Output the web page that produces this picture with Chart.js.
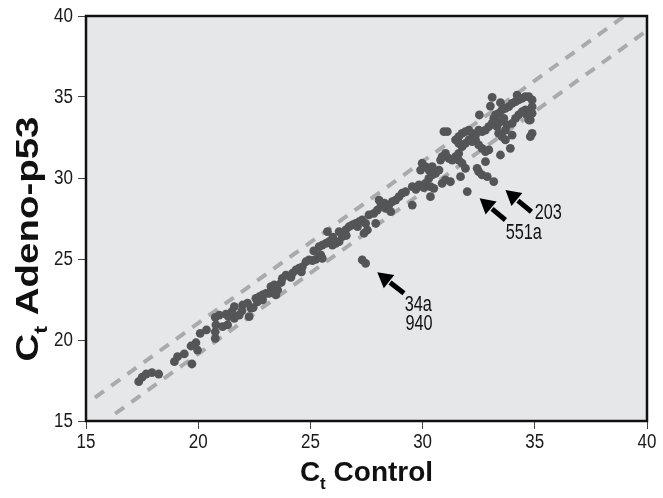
<!DOCTYPE html>
<html>
<head>
<meta charset="utf-8">
<script src="https://cdn.jsdelivr.net/npm/chart.js@4"></script>
<style>
  html, body { margin: 0; padding: 0; background: #fff; }
  #wrap { width: 663px; height: 498px; }
</style>
</head>
<body>
<div id="wrap"><canvas id="ctChart"></canvas></div>
<script>
// Ct values per gene: control (x) vs Adeno-p53 (y)
const controlCt = [
  17.35, 17.50, 17.68, 17.94, 18.24, 18.94, 19.08, 19.38, 19.72, 19.68, 19.90, 19.97,
  20.09, 20.37, 20.76, 20.76, 20.79, 20.76, 20.94, 21.24, 21.35, 21.31, 21.09, 21.61,
  21.61, 21.83, 21.98, 22.20, 22.35, 22.57, 22.72, 22.87, 23.16, 23.46, 22.27, 22.64,
  22.87, 23.02, 23.24, 23.39, 23.54, 23.46, 23.75, 23.91, 24.13, 24.20, 24.35, 24.50,
  24.64, 24.80, 24.94, 25.09, 25.24, 25.39, 25.46, 25.53, 25.39, 25.53, 25.69, 25.76,
  25.83, 25.98, 26.13, 26.28, 26.28, 26.42, 26.57, 26.72, 26.87, 27.02, 27.17, 27.31,
  27.46, 27.54, 27.39, 27.61, 27.83, 27.98, 28.06, 28.13, 28.35, 28.50, 28.65, 28.80,
  28.95, 29.09, 29.24, 29.54, 28.58, 27.91, 27.31, 27.46,
  29.54, 29.84, 30.13, 30.28, 30.43, 30.35, 30.35, 29.91, 29.98, 30.13, 30.28, 30.43,
  30.58, 30.73, 30.80, 30.87, 31.02, 31.17, 31.32, 31.47, 31.61, 31.02, 31.24, 30.87,
  30.50, 31.47, 31.61, 31.76, 31.91, 32.06, 32.21, 32.36, 32.50, 32.65, 32.80, 32.95,
  33.10, 33.17, 33.25, 33.39, 33.54, 33.69, 33.84, 33.99, 34.14, 34.28, 34.43, 34.58,
  34.73, 34.88, 34.88, 34.88, 34.80, 34.88, 34.80, 34.21, 33.10, 33.02, 33.47, 32.53,
  30.95, 31.10, 31.61, 31.76, 31.91, 32.06, 32.21, 32.36, 32.50, 32.65, 32.80, 32.95,
  31.61, 31.76, 31.91, 31.69, 31.99, 32.43, 32.50, 32.65, 32.88, 33.17, 32.80, 33.47,
  33.91, 33.69, 33.54, 33.39, 33.76, 33.99, 34.14, 34.28, 34.43, 34.58, 34.65, 34.73,
  33.99, 33.69, 33.32, 33.47, 33.62,
  21.50, 21.95, 22.45, 23.70, 24.60, 25.15, 26.00, 26.60, 27.10, 28.30, 29.70, 30.05
];
const adenoCt = [
  17.43, 17.70, 17.90, 17.98, 17.90, 18.66, 18.97, 19.14, 18.52, 19.63, 19.83, 19.38,
  20.41, 20.62, 20.10, 20.51, 20.93, 21.40, 21.54, 21.60, 21.44, 20.93, 20.82, 22.06,
  21.34, 21.54, 22.16, 22.27, 21.96, 22.57, 22.67, 22.78, 22.88, 22.92, 21.44, 22.36,
  22.47, 22.88, 23.29, 23.40, 23.09, 22.78, 23.81, 24.01, 23.87, 24.12, 24.32, 24.43,
  24.52, 24.83, 24.94, 24.90, 24.98, 25.14, 25.25, 25.04, 25.76, 25.86, 25.97, 26.69,
  26.07, 25.86, 25.97, 26.69, 26.07, 26.38, 26.79, 26.99, 27.10, 27.20, 27.30, 27.41,
  27.20, 26.79, 26.59, 27.72, 27.82, 28.02, 28.64, 28.23, 28.13, 28.33, 28.54, 28.64,
  28.85, 29.06, 29.15, 28.33, 27.92, 27.20, 24.94, 24.73,
  29.47, 29.57, 29.67, 29.98, 30.19, 29.47, 28.85, 30.49, 30.91, 30.70, 30.49, 30.70,
  30.29, 30.49, 31.11, 31.32, 31.52, 31.21, 31.11, 31.32, 31.52, 29.88, 29.77, 29.67,
  29.36, 32.35, 32.55, 32.76, 32.86, 32.96, 32.76, 32.65, 32.96, 32.86, 32.96, 33.17,
  33.37, 33.68, 33.89, 33.99, 34.20, 34.30, 34.40, 34.61, 34.71, 34.82, 34.92, 35.02,
  35.02, 34.82, 34.40, 33.99, 33.58, 32.76, 32.55, 35.12, 34.98, 34.44, 34.65, 33.89,
  32.86, 32.86, 32.14, 31.93, 32.14, 32.35, 32.24, 32.35, 32.04, 31.83, 31.63, 31.73,
  31.11, 30.91, 30.60, 30.08, 29.16, 30.60, 30.39, 30.19, 30.08, 29.78, 31.01, 31.42,
  31.83, 32.35, 32.55, 32.76, 33.27, 33.37, 33.68, 33.89, 34.09, 34.20, 33.89, 33.58,
  32.65, 32.96, 33.17, 33.48, 33.68,
  21.75, 21.80, 22.00, 23.55, 24.20, 25.50, 26.35, 26.45, 27.00, 28.45, 29.30, 29.40
];

// two-fold boundary lines
const upperLineX = [15.4, 39.0];
const upperLineY = [16.45, 40.0];
const lowerLineX = [16.3, 40.0];
const lowerLineY = [15.45, 39.1];

const xTicks = [15, 20, 25, 30, 35, 40];
const yTicks = [15, 20, 25, 30, 35, 40];

// outlier arrows (data units) and their labels
const arrowTipX = [27.98, 32.54, 33.69];
const arrowTipY = [24.18, 28.75, 29.26];
const arrowTailX = [29.17, 33.69, 34.85];
const arrowTailY = [22.88, 27.41, 27.92];
const labelText = ['34a', '940', '551a', '203'];
const labelX = [29.81, 29.84, 34.51, 35.60];
const labelY = [22.16, 20.99, 26.59, 27.82];

const sans = "'Liberation Sans', Arial, sans-serif";

const points = controlCt.map((v, i) => ({ x: v, y: adenoCt[i] }));
const upper = upperLineX.map((v, i) => ({ x: v, y: upperLineY[i] }));
const lower = lowerLineX.map((v, i) => ({ x: v, y: lowerLineY[i] }));

// draw text squeezed horizontally to look like a condensed face
function condensed(ctx, text, x, y, size, sx, align) {
  ctx.save();
  ctx.font = size + 'px ' + sans;
  ctx.textAlign = align;
  ctx.textBaseline = 'middle';
  ctx.translate(x, y);
  ctx.scale(sx, 1);
  ctx.fillText(text, 0, 0);
  ctx.restore();
}

// "C" + subscript "t" + rest, centred on cx
function ctTitle(ctx, rest, cx, baseY, size, stretch) {
  ctx.save();
  ctx.translate(cx, baseY);
  ctx.scale(stretch, 1);
  ctx.textAlign = 'left';
  ctx.textBaseline = 'alphabetic';
  const big = 'bold ' + size + 'px ' + sans;
  const small = 'bold ' + Math.round(size * 0.6) + 'px ' + sans;
  ctx.font = big;
  const wC = ctx.measureText('C').width;
  const wr = ctx.measureText(rest).width;
  ctx.font = small;
  const wt = ctx.measureText('t').width;
  const x0 = -(wC + wt + wr) / 2;
  ctx.font = big;
  ctx.fillText('C', x0, 0);
  ctx.font = small;
  ctx.fillText('t', x0 + wC, size * 0.29);
  ctx.font = big;
  ctx.fillText(rest, x0 + wC + wt, 0);
  ctx.restore();
}

const framePlugin = {
  id: 'frame',
  beforeDatasetsDraw(chart) {
    const { ctx, chartArea: a } = chart;
    ctx.save();
    ctx.fillStyle = '#e6e7e9';
    ctx.fillRect(a.left, a.top, a.right - a.left, a.bottom - a.top);
    ctx.restore();
  },
  afterDraw(chart) {
    const { ctx, chartArea: a, scales } = chart;
    const xs = scales.x, ys = scales.y;
    ctx.save();
    ctx.strokeStyle = '#111';
    ctx.lineWidth = 2.5;
    ctx.strokeRect(a.left, a.top, a.right - a.left, a.bottom - a.top);

    // tick labels
    ctx.fillStyle = '#1a1a1a';
    xTicks.forEach(v => condensed(ctx, String(v), xs.getPixelForValue(v), a.bottom + 21, 20, 0.85, 'center'));
    yTicks.forEach(v => condensed(ctx, String(v), a.left - 13, ys.getPixelForValue(v), 20, 0.85, 'right'));

    // arrows
    ctx.fillStyle = '#000';
    ctx.strokeStyle = '#000';
    for (let i = 0; i < arrowTipX.length; i++) {
      const tx = xs.getPixelForValue(arrowTipX[i]), ty = ys.getPixelForValue(arrowTipY[i]);
      const sx = xs.getPixelForValue(arrowTailX[i]), sy = ys.getPixelForValue(arrowTailY[i]);
      const ang = Math.atan2(ty - sy, tx - sx);
      const headLen = 15, headW = 8.5;
      const bx = tx - headLen * Math.cos(ang), by = ty - headLen * Math.sin(ang);
      ctx.lineWidth = 5;
      ctx.beginPath();
      ctx.moveTo(sx, sy);
      ctx.lineTo(bx + 1, by + 1);
      ctx.stroke();
      ctx.beginPath();
      ctx.moveTo(tx, ty);
      ctx.lineTo(bx + headW * Math.sin(ang), by - headW * Math.cos(ang));
      ctx.lineTo(bx - headW * Math.sin(ang), by + headW * Math.cos(ang));
      ctx.closePath();
      ctx.fill();
    }

    // outlier labels
    ctx.fillStyle = '#111';
    labelText.forEach((t, i) => {
      condensed(ctx, t, xs.getPixelForValue(labelX[i]), ys.getPixelForValue(labelY[i]), 22, 0.74, 'center');
    });

    // axis titles
    ctx.fillStyle = '#111';
    ctTitle(ctx, ' Control', (a.left + a.right) / 2, 481, 28, 1);
    ctx.save();
    ctx.translate(38, 239);
    ctx.rotate(-Math.PI / 2);
    ctTitle(ctx, ' Adeno-p53', 0, 0, 31, 1.24);
    ctx.restore();
    ctx.restore();
  }
};

new Chart(document.getElementById('ctChart'), {
  type: 'scatter',
  data: {
    datasets: [
      {
        data: points,
        backgroundColor: '#545557',
        borderWidth: 0,
        pointRadius: 4.4,
        order: 0
      },
      {
        data: upper,
        showLine: true,
        borderColor: '#aaaaaa',
        borderWidth: 4,
        borderDash: [11, 9],
        pointRadius: 0,
        order: 1
      },
      {
        data: lower,
        showLine: true,
        borderColor: '#aaaaaa',
        borderWidth: 4,
        borderDash: [11, 9],
        pointRadius: 0,
        order: 1
      }
    ]
  },
  options: {
    responsive: true,
    maintainAspectRatio: false,
    animation: false,
    layout: { padding: { top: 16, right: 16, left: 0, bottom: 0 } },
    plugins: { legend: { display: false }, tooltip: { enabled: false } },
    scales: {
      x: {
        type: 'linear',
        min: 15,
        max: 40,
        afterBuildTicks: s => { s.ticks = xTicks.map(v => ({ value: v })); },
        afterFit: s => { s.height = 77; },
        ticks: { color: 'rgba(0,0,0,0)', font: { size: 18 } },
        grid: { drawOnChartArea: false, tickLength: 8, color: '#444' },
        border: { display: false }
      },
      y: {
        type: 'linear',
        min: 15,
        max: 40,
        afterBuildTicks: s => { s.ticks = yTicks.map(v => ({ value: v })); },
        afterFit: s => { s.width = 86; },
        ticks: { color: 'rgba(0,0,0,0)', font: { size: 18 } },
        grid: { drawOnChartArea: false, tickLength: 8, color: '#444' },
        border: { display: false }
      }
    }
  },
  plugins: [framePlugin]
});
</script>
</body>
</html>
